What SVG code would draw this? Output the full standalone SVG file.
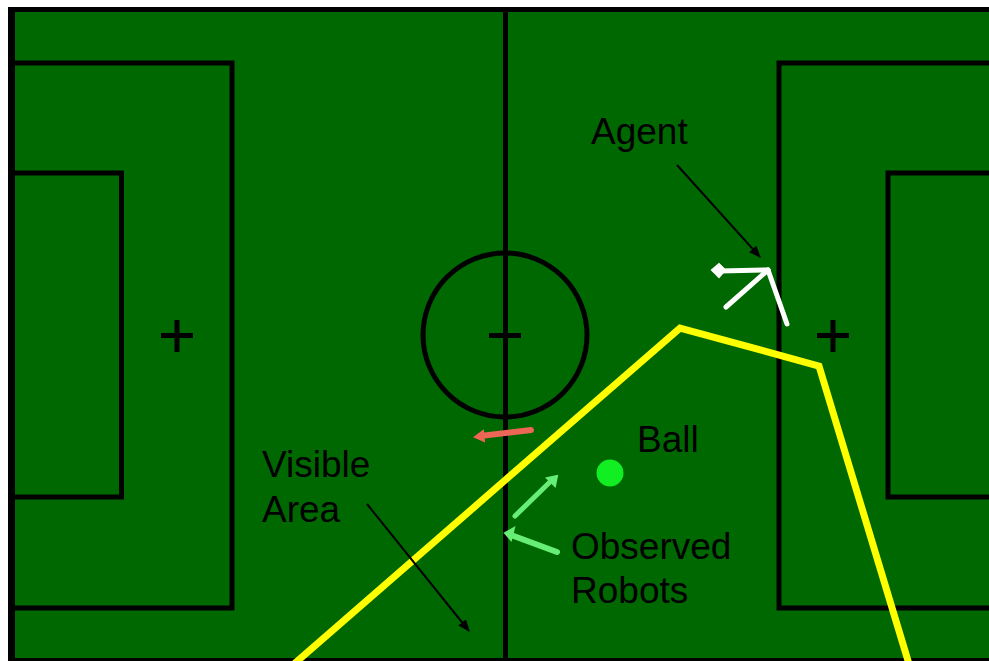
<svg xmlns="http://www.w3.org/2000/svg" width="989" height="661" viewBox="0 0 989 661">
<defs>
<style>
.ln{fill:none;stroke:#000;stroke-width:5}
.lbl{font-family:"Liberation Sans",Arial,sans-serif;font-size:37px;fill:#000}
.ptr{stroke:#000;stroke-width:2;fill:none}
</style>
<marker id="ah" viewBox="0 0 12 10" refX="11" refY="5" markerWidth="12" markerHeight="10" markerUnits="userSpaceOnUse" orient="auto">
<path d="M0,0 L12,5 L0,10 z" fill="#000"/>
</marker>
</defs>
<rect x="0" y="0" width="989" height="661" fill="#fff"/>
<g id="field">
<rect x="8" y="7" width="990" height="660" fill="#000"/>
<rect x="15" y="12" width="980" height="646" fill="#006800"/>
<path class="ln" d="M15,63 H232 V608 H15"/>
<path class="ln" d="M15,173 H121.5 V497 H15"/>
<path class="ln" d="M995,63 H779 V608 H995"/>
<path class="ln" d="M995,173 H888 V497 H995"/>
<line class="ln" x1="505.5" y1="12" x2="505.5" y2="658"/>
<circle class="ln" cx="505" cy="335" r="82"/>
<path class="ln" d="M161,335.5 H193 M177,320 V352" stroke-width="5.5"/>
<path class="ln" d="M489,335.5 H521" stroke-width="5.5"/>
<path class="ln" d="M817,335.5 H849 M833,320 V352" stroke-width="5.5"/>
</g>
<g id="visible-area">
<polyline points="294,664 680,328 819,366 909,664" fill="none" stroke="#ffff00" stroke-width="7" stroke-linejoin="miter"/>
</g>
<g id="agent" stroke="#fff" stroke-width="5" stroke-linecap="round" fill="none">
<line x1="768" y1="270" x2="720" y2="271"/>
<line x1="768" y1="270" x2="787" y2="324"/>
<line x1="768" y1="270" x2="726" y2="307"/>
<path d="M712,270 L719,264 L725,270 L719,277 z" fill="#fff" stroke-width="2"/>
</g>
<g id="robot-red" stroke="#ee6655" stroke-width="6" stroke-linecap="round" fill="#ee6655">
<line x1="480" y1="436" x2="531" y2="430"/>
<path d="M475,437 L483,431 L484,441 z" stroke-width="2"/>
</g>
<g id="robot-green-1" stroke="#66ee77" stroke-width="5" stroke-linecap="round" fill="#66ee77">
<line x1="515" y1="516" x2="553" y2="479"/>
<path d="M557,476 L547,478 L555,486 z" stroke-width="2"/>
</g>
<g id="robot-green-2" stroke="#66ee77" stroke-width="6" stroke-linecap="round" fill="#66ee77">
<line x1="511" y1="535" x2="557" y2="552"/>
<path d="M505,533 L514,528 L511,540 z" stroke-width="2"/>
</g>
<g id="ball">
<circle cx="610" cy="473" r="13.5" fill="#11ee22"/>
</g>
<g id="connectors">
<line class="ptr" x1="677" y1="165" x2="760" y2="257" marker-end="url(#ah)"/>
<line class="ptr" x1="367" y1="504" x2="469" y2="631" marker-end="url(#ah)"/>
</g>
<g id="labels">
<text class="lbl" x="591" y="144">Agent</text>
<text class="lbl" x="637" y="452">Ball</text>
<text class="lbl" x="262" y="477">Visible</text>
<text class="lbl" x="262" y="522">Area</text>
<text class="lbl" x="571" y="559">Observed</text>
<text class="lbl" x="571" y="603">Robots</text>
</g>
</svg>
